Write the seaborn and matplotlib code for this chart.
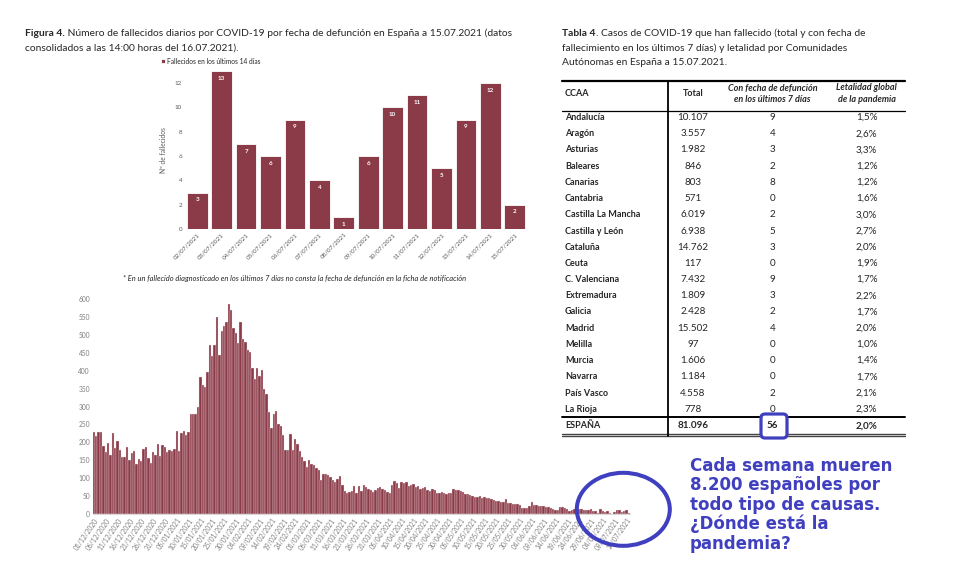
import matplotlib
matplotlib.use("Agg")
import matplotlib.pyplot as plt
from matplotlib.lines import Line2D
from matplotlib.patches import Ellipse, FancyBboxPatch
from matplotlib.transforms import IdentityTransform
import pandas as pd
import seaborn as sns

# Fallecidos diarios por fecha de defuncion (01/12/2020 - 15/07/2021)
dic_2020 = [228, 218, 230, 228, 190, 172, 197, 165, 225, 185, 203, 180, 158, 158, 186, 150,
            170, 177, 140, 153, 147, 181, 187, 157, 143, 174, 166, 195, 163, 193, 186]
ene_2021 = [173, 180, 175, 182, 233, 176, 225, 233, 220, 230, 278, 280, 278, 300, 383, 360,
            355, 395, 472, 440, 472, 550, 445, 510, 525, 535, 585, 568, 520, 505, 478]
feb_2021 = [535, 488, 480, 458, 452, 408, 378, 408, 385, 403, 350, 335, 285, 240, 280, 287,
            250, 245, 220, 180, 180, 222, 180, 208, 195, 175, 158, 148]
mar_2021 = [130, 152, 140, 137, 128, 123, 96, 113, 112, 110, 104, 96, 90, 97, 106, 82,
            64, 60, 62, 64, 79, 60, 78, 65, 80, 74, 71, 66, 62, 68, 72]
abr_2021 = [74, 71, 66, 62, 60, 81, 91, 86, 73, 90, 86, 88, 78, 82, 85, 76,
            78, 69, 73, 74, 68, 63, 70, 66, 60, 58, 62, 59, 56, 60]
may_2021 = [58, 69, 68, 66, 64, 62, 56, 55, 52, 50, 47, 48, 49, 46, 47, 46,
            44, 42, 40, 37, 35, 33, 34, 41, 31, 30, 28, 29, 27, 25, 17]
jun_2021 = [16, 18, 22, 34, 26, 24, 23, 22, 22, 20, 19, 17, 14, 12, 11, 20,
            19, 18, 13, 9, 10, 13, 12, 14, 15, 11, 10, 12, 13, 9]
jul_2021 = [8, 3, 13, 7, 6, 9, 4, 1, 6, 10, 11, 5, 9, 12, 2]

# Ultimos 14 dias
fechas_14 = ["02/07/2021", "03/07/2021", "04/07/2021", "05/07/2021", "06/07/2021",
             "07/07/2021", "08/07/2021", "09/07/2021", "10/07/2021", "11/07/2021",
             "12/07/2021", "13/07/2021", "14/07/2021", "15/07/2021"]
ultimos_14 = [3, 13, 7, 6, 9, 4, 1, 6, 10, 11, 5, 9, 12, 2]

# Tabla 4
ccaa = ["Andalucía", "Aragón", "Asturias", "Baleares", "Canarias", "Cantabria",
        "Castilla La Mancha", "Castilla y León", "Cataluña", "Ceuta", "C. Valenciana",
        "Extremadura", "Galicia", "Madrid", "Melilla", "Murcia", "Navarra",
        "País Vasco", "La Rioja"]
total = [10107, 3557, 1982, 846, 803, 571, 6019, 6938, 14762, 117, 7432, 1809, 2428,
         15502, 97, 1606, 1184, 4558, 778]
ult_7_dias = [9, 4, 3, 2, 8, 0, 2, 5, 3, 0, 9, 3, 2, 4, 0, 0, 0, 2, 0]
letalidad = [1.5, 2.6, 3.3, 1.2, 1.2, 1.6, 3.0, 2.7, 2.0, 1.9, 1.7, 2.2, 1.7, 2.0,
             1.0, 1.4, 1.7, 2.1, 2.3]
espana = ["ESPAÑA", 81096, 56, 2.0]

nota = ["Cada semana mueren", "8.200 españoles por", "todo tipo de causas.",
        "¿Dónde está la", "pandemia?"]

sns.set_style("white")
plt.rcParams["font.family"] = ["Lato", "DejaVu Sans"]

granate = "#8B3A47"
azul = "#3F3FC0"
gris = "#7f7f7f"

W, H = 963, 578
fig = plt.figure(figsize=(W / 100, H / 100), dpi=100)
PX = IdentityTransform()


def txt(x, y, s, **kw):
    return fig.text(x, H - y, s, transform=PX, **kw)


def linea(x0, x1, y0, y1, lw=1.0, color="black"):
    fig.add_artist(Line2D([x0, x1], [H - y0, H - y1], transform=PX, lw=lw, color=color))


def titulo(x, y, negrita, resto, size=7.35):
    t = txt(x, y, negrita, fontsize=size, fontweight="bold", va="center")
    w = t.get_window_extent(fig.canvas.get_renderer()).width
    txt(x + w, y, resto, fontsize=size, va="center")


# --- Titulos
titulo(25, 33, "Figura 4.", " Número de fallecidos diarios por COVID-19 por fecha de defunción en España a 15.07.2021 (datos")
txt(25, 48, "consolidados a las 14:00 horas del 16.07.2021).", fontsize=7.35, va="center")

titulo(562, 33, "Tabla 4", ". Casos de COVID-19 que han fallecido (total y con fecha de")
txt(562, 48, "fallecimiento en los últimos 7 días) y letalidad por Comunidades", fontsize=7.35, va="center")
txt(562, 62.5, "Autónomas en España a 15.07.2021.", fontsize=7.35, va="center")

# --- Grafico ultimos 14 dias
ax1 = fig.add_axes([185 / W, 1 - 229 / H, 342 / W, 158 / H])
sns.barplot(x=fechas_14, y=ultimos_14, color=granate, saturation=1, width=0.85,
            edgecolor="white", linewidth=0.6, label="Fallecidos en los últimos 14 días", ax=ax1)
ax1.bar_label(ax1.containers[0], padding=-7, color="white", fontsize=4.5, fontweight="bold")
ax1.set_ylim(0, 13)
ax1.set_yticks(range(0, 13, 2))
ax1.set_ylabel("Nº de fallecidos", fontsize=4.8, color="#595959", labelpad=6)
ax1.set_xlabel("")
ax1.tick_params(axis="both", length=0, labelsize=4.5, labelcolor="#595959", pad=2)
plt.setp(ax1.get_xticklabels(), rotation=45, ha="right", rotation_mode="anchor")
sns.despine(ax=ax1, left=True, bottom=True)
ax1.legend(loc="center left", bbox_to_anchor=(158, H - 61), bbox_transform=PX,
           frameon=False, fontsize=4.8, handlelength=0.6, handleheight=0.6,
           handletextpad=0.3, borderpad=0)

txt(123, 279, "* En un fallecido diagnosticado en los últimos 7 días no consta la fecha de defunción en la ficha de notificación",
    fontsize=5.4, style="italic", va="center", color="#262626")

# --- Grafico diario
fallecidos = dic_2020 + ene_2021 + feb_2021 + mar_2021 + abr_2021 + may_2021 + jun_2021 + jul_2021
fechas = pd.date_range("2020-12-01", "2021-07-15").strftime("%d/%m/%Y").tolist()
df = pd.DataFrame({"fecha": fechas, "fallecidos": fallecidos})

ax2 = fig.add_axes([92.7 / W, 1 - 514 / H, 537.3 / W, 215 / H])
sns.barplot(data=df, x="fecha", y="fallecidos", color=granate, saturation=1, width=1,
            edgecolor="#f3e6e8", linewidth=0.25, ax=ax2)
ax2.set_xlim(-0.5, len(df) - 0.5)
ax2.set_ylim(0, 600)
ax2.set_yticks(range(0, 601, 50))
ax2.set_xticks(range(0, len(df), 5))
ax2.set_xticklabels(df["fecha"][::5], rotation=55, ha="right", rotation_mode="anchor")
ax2.set_xlabel("")
ax2.set_ylabel("")
ax2.tick_params(axis="both", length=0, labelsize=4.8, labelcolor=gris, pad=2)
sns.despine(ax=ax2, left=True)
ax2.spines["bottom"].set_color("#d9d9d9")

# --- Tabla
x_izq, x_der, x_sep = 562, 905, 667.7
x_tot, x_ult, x_let = 693, 772.7, 866.7
fs = 6.5
linea(x_izq, x_der, 81, 81, lw=1.6)
linea(x_izq, x_der, 111.2, 111.2, lw=0.9)
linea(x_izq, x_der, 416.9, 416.9, lw=1.4)
linea(x_izq, x_der, 433.8, 433.8, lw=1.0, color="#444444")
linea(x_izq, x_der, 436.2, 436.2, lw=1.0, color="#444444")
linea(x_sep, x_sep, 81, 436, lw=1.3)

txt(565, 93, "CCAA", fontsize=fs, fontweight="bold", va="center")
txt(x_tot, 93, "Total", fontsize=fs, fontweight="bold", va="center", ha="center")
txt(x_ult, 88, "Con fecha de defunción", fontsize=fs, fontweight="bold", style="italic", va="center", ha="center")
txt(x_ult, 100, "en los últimos 7 días", fontsize=fs, fontweight="bold", style="italic", va="center", ha="center")
txt(x_let, 88, "Letalidad global", fontsize=fs, fontweight="bold", style="italic", va="center", ha="center")
txt(x_let, 100, "de la pandemia", fontsize=fs, fontweight="bold", style="italic", va="center", ha="center")


def miles(v):
    return f"{v:,}".replace(",", ".")


def pct(v):
    return f"{v:.1f}%".replace(".", ",")


for i, nombre in enumerate(ccaa):
    y = 117.6 + i * 16.2
    txt(565, y, nombre, fontsize=fs, fontweight="bold", va="center")
    txt(x_tot, y, miles(total[i]), fontsize=fs + 0.6, va="center", ha="center")
    txt(x_ult, y, str(ult_7_dias[i]), fontsize=fs + 0.6, va="center", ha="center")
    txt(x_let, y, pct(letalidad[i]), fontsize=fs + 0.6, va="center", ha="center")

y_esp = 426
txt(565, y_esp, espana[0], fontsize=fs, fontweight="bold", va="center")
txt(x_tot, y_esp, miles(espana[1]), fontsize=fs + 0.6, fontweight="bold", va="center", ha="center")
txt(x_let, y_esp, pct(espana[3]), fontsize=fs + 0.6, fontweight="bold", va="center", ha="center")

caja = FancyBboxPatch((761, H - 438), 26, 24, boxstyle="round,pad=0,rounding_size=4",
                      transform=PX, fc="white", ec=azul, lw=2.3, zorder=5)
fig.add_artist(caja)
txt(x_ult, y_esp, str(espana[2]), fontsize=fs + 0.6, fontweight="bold", va="center", ha="center", zorder=6)

# --- Anotaciones
fig.add_artist(Ellipse((623.3, H - 509.3), 93, 73, transform=PX, fill=False, ec=azul, lw=2.9))
for i, linea_nota in enumerate(nota):
    txt(690, 470.7 + i * 19.5, linea_nota, fontsize=12, fontweight="bold", color=azul,
        family=["DejaVu Sans"], va="baseline")

fig.savefig("out.png", dpi=100)
